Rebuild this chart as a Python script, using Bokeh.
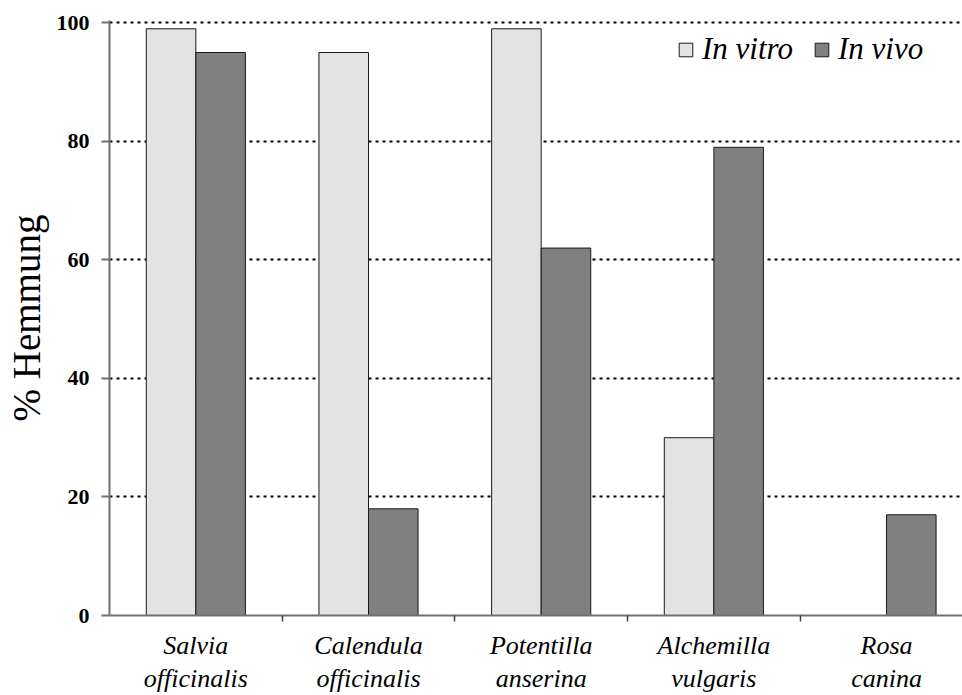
from bokeh.plotting import figure
from bokeh.models import Range1d, FixedTicker, Legend, LegendItem, ColumnDataSource
from bokeh.embed import file_html
from bokeh.resources import INLINE

categories = ["Salvia\nofficinalis", "Calendula\nofficinalis", "Potentilla\nanserina",
              "Alchemilla\nvulgaris", "Rosa\ncanina"]
in_vitro = [99, 95, 99, 30, 0]
in_vivo = [95, 18, 62, 79, 17]
y_ticks = [0, 20, 40, 60, 80, 100]

SERIF = "Liberation Serif"
BAR_W = 0.287
pos = list(range(1, len(categories) + 1))

p = figure(width=962, height=695, output_backend="svg", toolbar_location=None,
           x_range=Range1d(0.5, 5.44), y_range=Range1d(0, 100.4),
           min_border_left=109, min_border_right=0, min_border_top=20, min_border_bottom=78)
p.outline_line_color = None
p.xgrid.visible = False

src = ColumnDataSource(dict(
    xv=[x - BAR_W / 2 for x in pos], xo=[x + BAR_W / 2 for x in pos],
    vitro=in_vitro, vivo=in_vivo))
r1 = p.vbar(x="xv", top="vitro", width=BAR_W, source=src,
            fill_color="#e3e3e3", line_color="#1a1a1a", line_width=1)
r2 = p.vbar(x="xo", top="vivo", width=BAR_W, source=src,
            fill_color="#808080", line_color="#1a1a1a", line_width=1)

# y axis
p.yaxis.ticker = FixedTicker(ticks=y_ticks)
p.yaxis.major_label_text_font = SERIF
p.yaxis.major_label_text_font_style = "bold"
p.yaxis.major_label_text_font_size = "22px"
p.yaxis.major_label_text_color = "black"
p.yaxis.major_label_standoff = 12
p.yaxis.major_tick_out = 8
p.yaxis.major_tick_in = 0
p.yaxis.minor_tick_out = 0
p.yaxis.minor_tick_in = 0
p.yaxis.axis_line_color = "#707070"
p.yaxis.axis_line_width = 2
p.yaxis.major_tick_line_color = "#707070"
p.yaxis.major_tick_line_width = 2
p.yaxis.axis_label = "% Hemmung"
p.yaxis.axis_label_text_font = SERIF
p.yaxis.axis_label_text_font_style = "normal"
p.yaxis.axis_label_text_font_size = "39px"
p.yaxis.axis_label_text_color = "black"
p.yaxis.axis_label_standoff = 6

p.ygrid.ticker = FixedTicker(ticks=y_ticks[1:])
p.ygrid.grid_line_color = "black"
p.ygrid.grid_line_dash = "3 4"
p.ygrid.grid_line_width = 2

# x axis: labels at group centres, small ticks at group boundaries
p.xaxis.ticker = FixedTicker(ticks=pos, minor_ticks=[x + 0.5 for x in pos[:-1]])
p.xaxis.major_label_overrides = {x: c for x, c in zip(pos, categories)}
p.xaxis.major_label_text_font = SERIF
p.xaxis.major_label_text_font_style = "italic"
p.xaxis.major_label_text_font_size = "26px"
p.xaxis.major_label_text_color = "black"
p.xaxis.major_label_text_line_height = 1.15
p.xaxis.major_label_standoff = 9
p.xaxis.major_tick_out = 0
p.xaxis.major_tick_in = 0
p.xaxis.minor_tick_out = 6
p.xaxis.minor_tick_in = 0
p.xaxis.minor_tick_line_color = "#404040"
p.xaxis.minor_tick_line_width = 1.5
p.xaxis.axis_line_color = "#707070"
p.xaxis.axis_line_width = 2

legend = Legend(items=[LegendItem(label="In vitro", renderers=[r1]),
                       LegendItem(label="In vivo", renderers=[r2])],
                orientation="horizontal", location=(568, 548))
legend.label_text_font = SERIF
legend.label_text_font_style = "italic"
legend.label_text_font_size = "31px"
legend.label_text_color = "black"
legend.glyph_width = 17
legend.glyph_height = 17
legend.label_standoff = 8
legend.spacing = 20
legend.padding = 0
legend.margin = 0
legend.border_line_color = None
legend.background_fill_alpha = 0
p.add_layout(legend)

open("out.html", "w").write(file_html(p, INLINE))
